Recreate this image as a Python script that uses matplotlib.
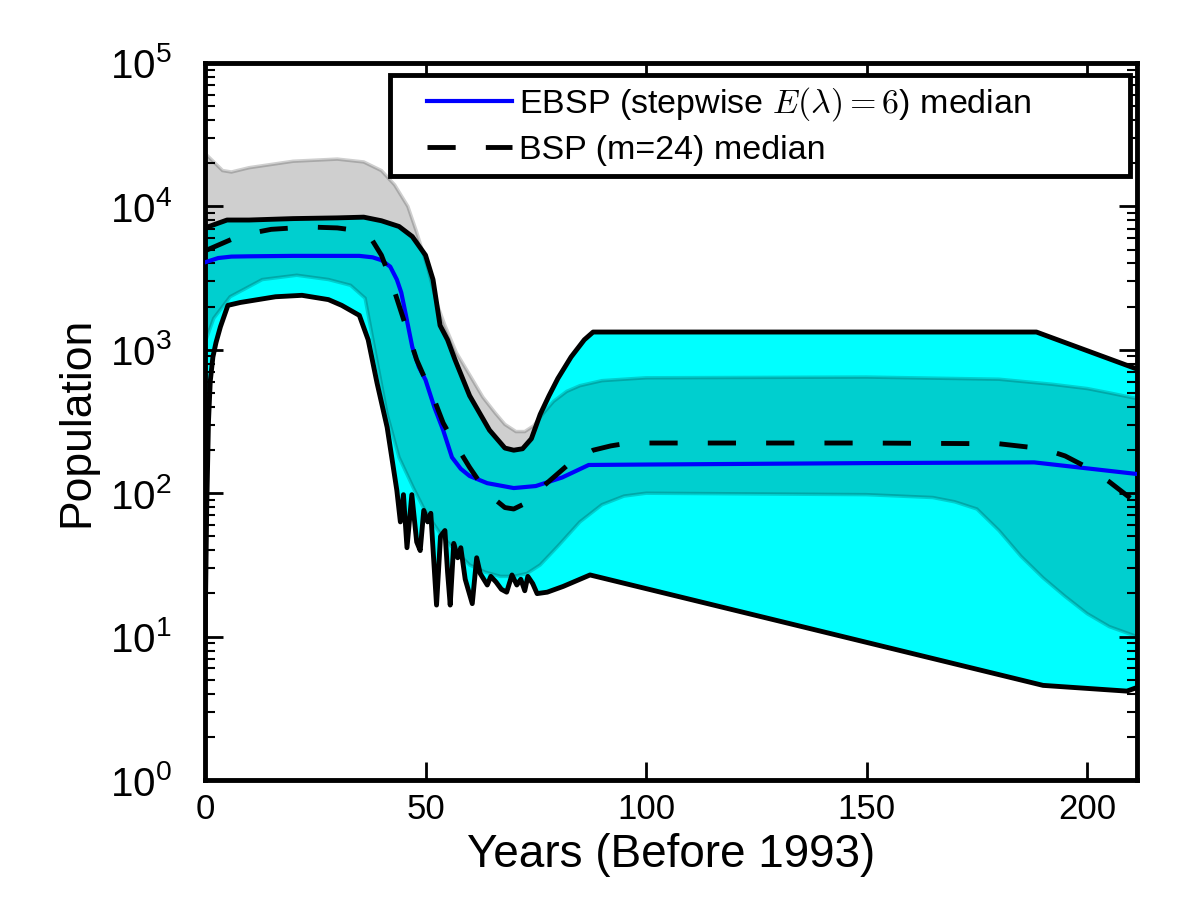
import matplotlib
matplotlib.use("Agg")
import matplotlib.pyplot as plt
import numpy as np
from matplotlib.font_manager import FontProperties
from matplotlib.legend_handler import HandlerLine2D

plt.rcParams["font.family"] = ["Liberation Sans", "DejaVu Sans"]

# EBSP 95% HPD band (log10 population), upper and lower edges
ebsp_hi_years = [0, 2, 4, 6, 10, 20, 30, 36, 40, 43, 46, 48, 50.6, 52.5, 54.4, 57, 60.5, 63,
                 65.8, 68, 70.5, 72.5, 74.5, 76.5, 79, 82, 85, 90, 100, 150, 180, 192, 200,
                 205, 211.3]
ebsp_hi_log = [4.37, 4.31, 4.25, 4.24, 4.27, 4.315, 4.33, 4.31, 4.25, 4.15, 4.0, 3.82, 3.56,
               3.33, 3.17, 2.98, 2.80, 2.67, 2.56, 2.48, 2.43, 2.43, 2.47, 2.55, 2.64, 2.71,
               2.75, 2.785, 2.805, 2.81, 2.795, 2.76, 2.73, 2.70, 2.66]
ebsp_lo_years = [0, 2, 5.7, 13, 20.8, 28, 33, 36.3, 38.5, 41.3, 44, 47.2, 50, 53.3, 57, 60,
                 63.5, 67, 70, 73, 76, 80, 85, 90, 95, 100, 150, 165, 170, 175, 180, 185,
                 190, 195, 200, 205, 211.3]
ebsp_lo_log = [3.05, 3.22, 3.37, 3.49, 3.52, 3.49, 3.45, 3.36, 3.0, 2.55, 2.25, 2.04, 1.87,
               1.72, 1.59, 1.50, 1.45, 1.42, 1.42, 1.44, 1.50, 1.63, 1.80, 1.92, 1.98, 2.0,
               1.99, 1.97, 1.94, 1.89, 1.74, 1.56, 1.41, 1.28, 1.16, 1.07, 1.0]

# BSP 95% HPD band (log10 population)
bsp_hi_years = [0, 5, 10, 20, 30, 36, 40, 44, 47, 50, 51.7, 53.3, 55, 56.7, 60, 64.5, 68,
                70, 72, 74, 76, 78, 80, 83, 86, 88, 188.5, 211.3]
bsp_hi_log = [3.85, 3.905, 3.905, 3.915, 3.92, 3.925, 3.90, 3.86, 3.79, 3.66, 3.49, 3.17,
              3.07, 2.93, 2.68, 2.44, 2.315, 2.30, 2.31, 2.38, 2.55, 2.68, 2.80, 2.95, 3.07,
              3.124, 3.124, 2.866]
bsp_lo_years = [0, 0.4, 0.8, 1.2, 1.8, 2.5, 3.5, 5.2, 8, 12, 16, 22, 28, 31, 35, 37, 39,
                41.3, 42.7, 43.5, 44.3, 45.0, 45.8, 46.9, 48.0, 48.8, 49.6, 50.5, 51.2, 52.5,
                53.4, 54.4, 55.0, 55.6, 56.4, 57.3, 58.0, 59.0, 60.6, 61.6, 62.4, 63.2, 64.0,
                64.8, 66.0, 67.2, 68.4, 69.6, 70.7, 71.6, 72.5, 73.2, 74.3, 75.3, 77.6, 81.2,
                87.3, 190, 209, 211.3]
bsp_lo_log = [0.95, 1.9, 2.5, 2.78, 2.95, 3.05, 3.16, 3.31, 3.33, 3.35, 3.37, 3.38, 3.35,
              3.31, 3.24, 3.07, 2.77, 2.46, 2.18, 2.02, 1.80, 1.99, 1.62, 1.99, 1.66, 1.60,
              1.88, 1.80, 1.86, 1.22, 1.70, 1.74, 1.45, 1.22, 1.65, 1.55, 1.62, 1.40, 1.23,
              1.55, 1.44, 1.40, 1.36, 1.42, 1.38, 1.33, 1.31, 1.43, 1.36, 1.40, 1.32, 1.42,
              1.37, 1.30, 1.31, 1.35, 1.43, 0.66, 0.62, 0.645]

# medians
ebsp_med_years = [0, 3, 6, 10, 20, 30, 35, 38, 40, 42, 43.5, 44.5, 45.5, 47, 48.5, 50, 52,
                  54, 56, 58, 60, 64, 70, 75, 81, 87, 100, 150, 188, 211.3]
ebsp_med_log = [3.61, 3.64, 3.65, 3.652, 3.655, 3.655, 3.655, 3.645, 3.625, 3.58, 3.49, 3.40,
                3.25, 3.02, 2.88, 2.79, 2.60, 2.44, 2.25, 2.17, 2.12, 2.07, 2.036, 2.05, 2.11,
                2.197, 2.20, 2.21, 2.215, 2.134]
bsp_med_years = [0, 3, 6, 10, 15, 20, 25, 30, 35, 38, 40, 42, 44, 46, 48, 50, 52, 54, 56,
                 58, 60, 62, 64, 66, 68, 70, 72, 74, 76, 79, 82, 85, 88, 92, 96, 100, 150,
                 180, 190, 195, 200, 205, 211.3]
bsp_med_log = [3.69, 3.73, 3.77, 3.81, 3.84, 3.85, 3.855, 3.85, 3.83, 3.76, 3.66, 3.50, 3.31,
               3.12, 2.93, 2.79, 2.65, 2.49, 2.38, 2.28, 2.18, 2.09, 2.01, 1.95, 1.90, 1.89,
               1.92, 1.97, 2.03, 2.11, 2.19, 2.25, 2.30, 2.33, 2.35, 2.35, 2.35, 2.345, 2.31,
               2.26, 2.18, 2.08, 1.93]

x_ticks = [0, 50, 100, 150, 200]


def pop(vals):
    return 10 ** np.asarray(vals)


fig = plt.figure(figsize=(12, 9), dpi=100)
ax = fig.add_axes([0.1708, 0.1333, 0.7767, 0.7967])

# BSP band: cyan fill with black edges
ax.fill(np.r_[bsp_hi_years, bsp_lo_years[::-1]], np.r_[pop(bsp_hi_log), pop(bsp_lo_log)[::-1]],
        color="#00ffff", lw=0, zorder=1)

# EBSP band: translucent grey on top (turns the overlap dark cyan)
ax.fill(np.r_[ebsp_hi_years, ebsp_lo_years[::-1]], np.r_[pop(ebsp_hi_log), pop(ebsp_lo_log)[::-1]],
        facecolor="k", edgecolor="k", alpha=0.19, lw=2.5, zorder=2)

ax.plot(bsp_hi_years, pop(bsp_hi_log), color="k", lw=3.5, zorder=3)
ax.plot(bsp_lo_years, pop(bsp_lo_log), color="k", lw=3.5, zorder=3)

(ebsp_line,) = ax.plot(ebsp_med_years, pop(ebsp_med_log), color="#0000ff", lw=3, zorder=4,
                       label=r"EBSP (stepwise $E(\lambda) = 6$) median")
(bsp_line,) = ax.plot(bsp_med_years, pop(bsp_med_log), color="k", lw=3.5, zorder=5,
                      dashes=(5.8, 6.2), label="BSP (m=24) median")

ax.set_yscale("log")
ax.set_ylim(1, 1e5)
ax.set_xlim(0, 211.3)
ax.set_xticks(x_ticks)

for s in ax.spines.values():
    s.set_linewidth(3.5)
ax.tick_params(which="both", direction="in", top=True, right=True)
ax.tick_params(which="major", length=13, width=2)
ax.tick_params(which="minor", length=7, width=1.5)
ax.tick_params(axis="x", labelsize=25, pad=9)
ax.tick_params(axis="y", labelsize=29, pad=24)

ax.set_xlabel("Years (Before 1993)", fontsize=33)
ax.xaxis.set_label_coords(0.5, -0.074)
ax.set_ylabel("Population", fontsize=32)
ax.yaxis.set_label_coords(-0.115, 0.5)

leg_font = FontProperties(family=["Liberation Sans", "DejaVu Sans"], size=24.5,
                          math_fontfamily="cm")
leg = ax.legend(handles=[ebsp_line, bsp_line], prop=leg_font, loc="upper left",
                bbox_to_anchor=(0.1985, 0.8368, 0.794, 0.1465), mode="expand",
                borderaxespad=0, fancybox=False, framealpha=1, edgecolor="k",
                handlelength=3.3, handletextpad=0.2, borderpad=0.3, labelspacing=0.35,
                handler_map={ebsp_line: HandlerLine2D(xpad=0.8),
                             bsp_line: HandlerLine2D(xpad=0.8)})
leg.get_frame().set_linewidth(3.5)

fig.savefig("out.png", dpi=100)
